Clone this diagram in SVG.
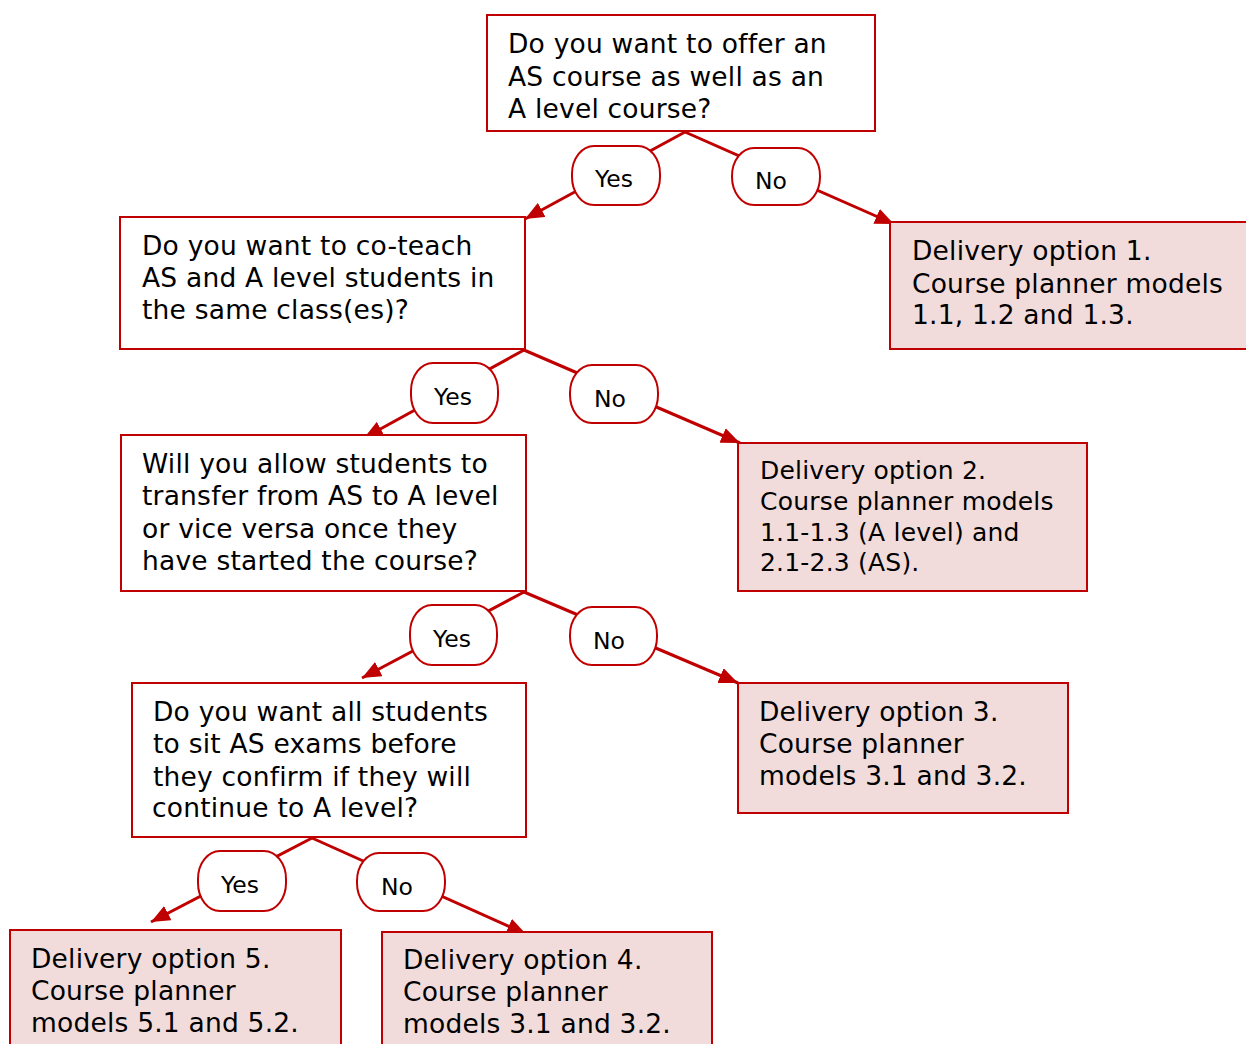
<svg xmlns="http://www.w3.org/2000/svg" width="1246" height="1044" viewBox="0 0 1246 1044">
<style>
.q{fill:#ffffff;stroke:#C00000;stroke-width:2}
.o{fill:#F2DCDB;stroke:#C00000;stroke-width:2}
.p{fill:#ffffff;stroke:#C00000;stroke-width:2}
.c{stroke:#C00000;stroke-width:3;fill:none;marker-end:url(#ah)}
text{font-family:"DejaVu Sans",Verdana,sans-serif;fill:#000000}
.t{font-size:26.5px;letter-spacing:0.2px}
.t2{font-size:25px;letter-spacing:0.2px}
.l{font-size:23.5px}
</style>
<defs>
<marker id="ah" markerUnits="userSpaceOnUse" markerWidth="19" markerHeight="16" refX="19" refY="8" orient="auto" viewBox="0 0 19 16">
<path d="M0,0 L19,8 L0,16 z" fill="#C00000"/>
</marker>
</defs>
<rect width="1246" height="1044" fill="#ffffff"/>
<g id="connectors">
<line class="c" x1="685" y1="132" x2="525" y2="219"/>
<line class="c" x1="685" y1="132" x2="894" y2="224"/>
<line class="c" x1="524" y1="350" x2="364" y2="438"/>
<line class="c" x1="524" y1="350" x2="740" y2="443"/>
<line class="c" x1="524" y1="592" x2="362" y2="678"/>
<line class="c" x1="524" y1="592" x2="738" y2="683"/>
<line class="c" x1="312" y1="838" x2="151" y2="922"/>
<line class="c" x1="312" y1="838" x2="526" y2="934"/>
</g>
<g id="q1">
<rect class="q" x="487" y="15" width="388" height="116"/>
<text class="t" x="508" y="53">Do you want to offer an</text>
<text class="t" x="508" y="86">AS course as well as an</text>
<text class="t" x="508" y="118">A level course?</text>
</g>
<g id="yes1"><rect class="p" x="572" y="146" width="88" height="59" rx="22" ry="28"/><text class="l" x="595" y="187">Yes</text></g>
<g id="no1"><rect class="p" x="732" y="148" width="88" height="57" rx="22" ry="28"/><text class="l" x="755" y="189">No</text></g>
<g id="q2">
<rect class="q" x="120" y="217" width="405" height="132"/>
<text class="t" x="142" y="255">Do you want to co-teach</text>
<text class="t" x="142" y="287">AS and A level students in</text>
<text class="t" x="142" y="319">the same class(es)?</text>
</g>
<g id="opt1">
<rect class="o" x="890" y="222" width="360" height="127"/>
<text class="t" x="912" y="260">Delivery option 1.</text>
<text class="t" x="912" y="293">Course planner models</text>
<text class="t" x="912" y="324">1.1, 1.2 and 1.3.</text>
</g>
<g id="yes2"><rect class="p" x="411" y="363" width="87" height="60" rx="22" ry="28"/><text class="l" x="434" y="405">Yes</text></g>
<g id="no2"><rect class="p" x="570" y="365" width="88" height="58" rx="22" ry="28"/><text class="l" x="594" y="407">No</text></g>
<g id="q3">
<rect class="q" x="121" y="435" width="405" height="156"/>
<text class="t" x="142" y="473">Will you allow students to</text>
<text class="t" x="142" y="505">transfer from AS to A level</text>
<text class="t" x="142" y="538">or vice versa once they</text>
<text class="t" x="142" y="570">have started the course?</text>
</g>
<g id="opt2">
<rect class="o" x="738" y="443" width="349" height="148"/>
<text class="t2" x="760" y="479">Delivery option 2.</text>
<text class="t2" x="760" y="510">Course planner models</text>
<text class="t2" x="760" y="541">1.1-1.3 (A level) and</text>
<text class="t2" x="760" y="571">2.1-2.3 (AS).</text>
</g>
<g id="yes3"><rect class="p" x="410" y="605" width="87" height="60" rx="22" ry="28"/><text class="l" x="433" y="647">Yes</text></g>
<g id="no3"><rect class="p" x="570" y="607" width="87" height="58" rx="22" ry="28"/><text class="l" x="593" y="649">No</text></g>
<g id="q4">
<rect class="q" x="132" y="683" width="394" height="154"/>
<text class="t" x="153" y="721">Do you want all students</text>
<text class="t" x="153" y="753">to sit AS exams before</text>
<text class="t" x="153" y="786">they confirm if they will</text>
<text class="t" x="152" y="817">continue to A level?</text>
</g>
<g id="opt3">
<rect class="o" x="738" y="683" width="330" height="130"/>
<text class="t" x="759" y="721">Delivery option 3.</text>
<text class="t" x="759" y="753">Course planner</text>
<text class="t" x="759" y="785">models 3.1 and 3.2.</text>
</g>
<g id="yes4"><rect class="p" x="198" y="851" width="88" height="60" rx="22" ry="28"/><text class="l" x="221" y="893">Yes</text></g>
<g id="no4"><rect class="p" x="357" y="853" width="88" height="58" rx="22" ry="28"/><text class="l" x="381" y="895">No</text></g>
<g id="opt5">
<rect class="o" x="10" y="930" width="331" height="125"/>
<text class="t" x="31" y="968">Delivery option 5.</text>
<text class="t" x="31" y="1000">Course planner</text>
<text class="t" x="31" y="1032">models 5.1 and 5.2.</text>
</g>
<g id="opt4">
<rect class="o" x="382" y="932" width="330" height="125"/>
<text class="t" x="403" y="969">Delivery option 4.</text>
<text class="t" x="403" y="1001">Course planner</text>
<text class="t" x="403" y="1033">models 3.1 and 3.2.</text>
</g>
</svg>
